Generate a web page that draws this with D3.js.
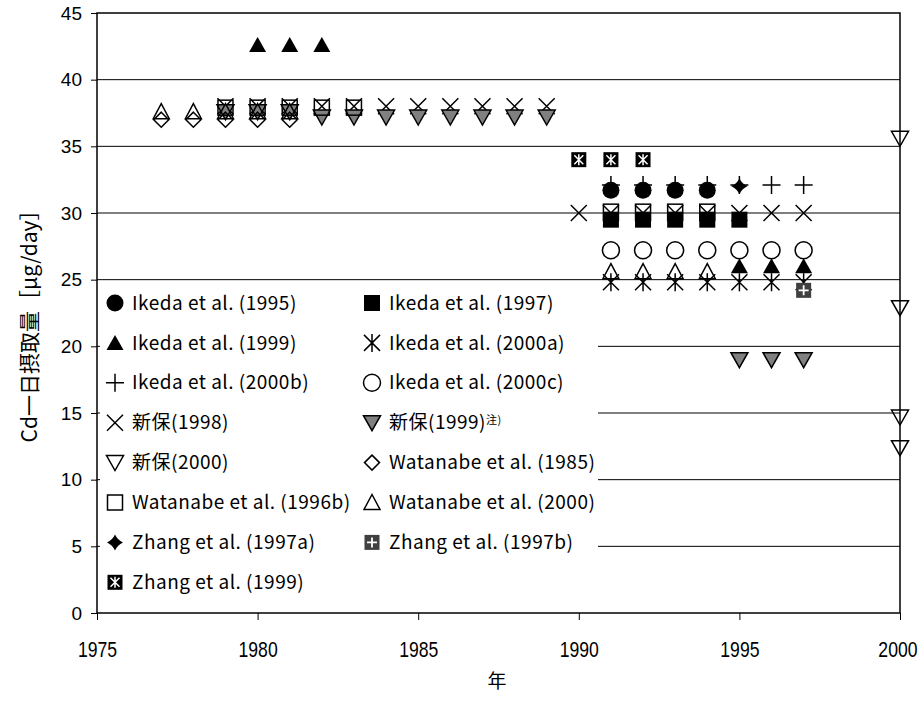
<!DOCTYPE html>
<html>
<head>
<meta charset="utf-8">
<script src="https://cdn.jsdelivr.net/npm/d3@7"></script>
<style>
  body { margin: 0; background: #fff; }
</style>
</head>
<body>
<div id="chart"></div>
<script>
// data: [year, Cd intake µg/day]
const ikeda1995 = [[1991, 31.7], [1992, 31.7], [1993, 31.7], [1994, 31.7]];
const ikeda1997 = [[1991, 29.5], [1992, 29.5], [1993, 29.5], [1994, 29.5], [1995, 29.5]];
const ikeda1999 = [[1980, 42.6], [1981, 42.6], [1982, 42.6], [1995, 26.0], [1996, 26.0], [1997, 26.0]];
const ikeda2000a = [[1991, 24.8], [1992, 24.8], [1993, 24.8], [1994, 24.8], [1995, 24.8], [1996, 24.8], [1997, 24.8]];
const ikeda2000b = [[1991, 32.1], [1992, 32.1], [1993, 32.1], [1994, 32.1], [1995, 32.1], [1996, 32.1], [1997, 32.1]];
const ikeda2000c = [[1991, 27.2], [1992, 27.2], [1993, 27.2], [1994, 27.2], [1995, 27.2], [1996, 27.2], [1997, 27.2]];
const shinpo1998 = [[1979, 38.0], [1980, 38.0], [1981, 38.0], [1982, 38.0], [1983, 38.0], [1984, 38.0], [1985, 38.0],
  [1986, 38.0], [1987, 38.0], [1988, 38.0], [1989, 38.0], [1990, 30.0], [1991, 30.0], [1992, 30.0], [1993, 30.0],
  [1994, 30.0], [1995, 30.0], [1996, 30.0], [1997, 30.0]];
const shinpo1999 = [[1979, 37.6], [1980, 37.6], [1981, 37.6], [1982, 37.2], [1983, 37.2], [1984, 37.2], [1985, 37.2],
  [1986, 37.2], [1987, 37.2], [1988, 37.2], [1989, 37.2], [1995, 19.0], [1996, 19.0], [1997, 19.0]];
const shinpo2000 = [[2000, 35.6], [2000, 22.9], [2000, 14.7], [2000, 12.4]];
const watanabe1985 = [[1977, 37.0], [1978, 37.0], [1979, 37.0], [1980, 37.0], [1981, 37.0]];
const watanabe1996b = [[1979, 37.9], [1980, 37.9], [1981, 37.9], [1982, 37.9], [1983, 37.9],
  [1991, 30.1], [1992, 30.1], [1993, 30.1], [1994, 30.1]];
const watanabe2000 = [[1977, 37.6], [1978, 37.6], [1979, 37.6], [1980, 37.6], [1981, 37.6],
  [1991, 25.6], [1992, 25.6], [1993, 25.6], [1994, 25.6]];
const zhang1997a = [[1995, 32.0]];
const zhang1997b = [[1997, 24.2]];
const zhang1999 = [[1990, 34.0], [1991, 34.0], [1992, 34.0]];

const seriesLabels = ['Ikeda et al. (1995)', 'Ikeda et al. (1997)', 'Ikeda et al. (1999)', 'Ikeda et al. (2000a)',
  'Ikeda et al. (2000b)', 'Ikeda et al. (2000c)', '新保(1998)', '新保(1999)', '新保(2000)',
  'Watanabe et al. (1985)', 'Watanabe et al. (1996b)', 'Watanabe et al. (2000)',
  'Zhang et al. (1997a)', 'Zhang et al. (1997b)', 'Zhang et al. (1999)'];
const seriesData = [ikeda1995, ikeda1997, ikeda1999, ikeda2000a, ikeda2000b, ikeda2000c,
  shinpo1998, shinpo1999, shinpo2000, watanabe1985, watanabe1996b, watanabe2000,
  zhang1997a, zhang1997b, zhang1999];

const xTicks = [1975, 1980, 1985, 1990, 1995, 2000];
const yTicks = [0, 5, 10, 15, 20, 25, 30, 35, 40, 45];

// marker look per series, same order as above
const markers = ['circleFill', 'squareFill', 'triUpFill', 'asterisk', 'plus', 'circleOpen', 'cross',
  'triDownGray', 'triDownOpen', 'diamondOpen', 'squareOpen', 'triUpOpen', 'diamondFill', 'boxPlus', 'boxStar'];

const width = 921, height = 702;
const margin = { left: 97, right: 21, top: 13, bottom: 89 };

const svg = d3.select('#chart').append('svg')
  .attr('width', width)
  .attr('height', height);

const x = d3.scaleLinear().domain([1975, 2000]).range([margin.left, width - margin.right]);
const y = d3.scaleLinear().domain([0, 45]).range([height - margin.bottom, margin.top]);

// gridlines
svg.append('g')
  .selectAll('line')
  .data(yTicks.filter(d => d > 0 && d < 45))
  .join('line')
  .attr('x1', x(1975)).attr('x2', x(2000))
  .attr('y1', d => y(d)).attr('y2', d => y(d))
  .attr('stroke', '#000')
  .attr('stroke-width', 1);

// draws one marker centred on 0,0
const drawMarker = (g, type) => {
  const k = '#000', sw = 1.5;
  switch (type) {
    case 'circleFill':
      g.append('circle').attr('r', 8.5).attr('fill', k); break;
    case 'circleOpen':
      g.append('circle').attr('r', 8.5).attr('fill', 'none').attr('stroke', k).attr('stroke-width', sw); break;
    case 'squareFill':
      g.append('rect').attr('x', -8).attr('y', -8).attr('width', 16).attr('height', 16).attr('fill', k); break;
    case 'squareOpen':
      g.append('rect').attr('x', -7.5).attr('y', -7.5).attr('width', 15).attr('height', 15)
        .attr('fill', 'none').attr('stroke', k).attr('stroke-width', sw); break;
    case 'triUpFill':
      g.append('path').attr('d', 'M0,-8L8.5,7L-8.5,7Z').attr('fill', k); break;
    case 'triUpOpen':
      g.append('path').attr('d', 'M0,-8L8,7L-8,7Z').attr('fill', 'none').attr('stroke', k).attr('stroke-width', sw); break;
    case 'triDownGray':
      g.append('path').attr('d', 'M-8.5,-7L8.5,-7L0,8Z').attr('fill', '#808080').attr('stroke', k).attr('stroke-width', sw); break;
    case 'triDownOpen':
      g.append('path').attr('d', 'M-8.5,-7L8.5,-7L0,8Z').attr('fill', 'none').attr('stroke', k).attr('stroke-width', sw); break;
    case 'diamondOpen':
      g.append('path').attr('d', 'M0,-7.5L7.5,0L0,7.5L-7.5,0Z').attr('fill', 'none').attr('stroke', k).attr('stroke-width', sw); break;
    case 'diamondFill':
      g.append('path').attr('d', 'M0,-8Q2.5,-2.5 8,0Q2.5,2.5 0,8Q-2.5,2.5 -8,0Q-2.5,-2.5 0,-8Z').attr('fill', k); break;
    case 'cross':
      g.append('path').attr('d', 'M-8,-8L8,8M8,-8L-8,8').attr('stroke', k).attr('stroke-width', sw); break;
    case 'plus':
      g.append('path').attr('d', 'M-9,0L9,0M0,-9L0,9').attr('stroke', k).attr('stroke-width', sw); break;
    case 'asterisk':
      g.append('path').attr('d', 'M-8,-8L8,8M8,-8L-8,8M0,-9L0,9').attr('stroke', k).attr('stroke-width', sw); break;
    case 'boxPlus':
      g.append('rect').attr('x', -7.5).attr('y', -7.5).attr('width', 15).attr('height', 15).attr('fill', '#404040');
      g.append('path').attr('d', 'M-5,0L5,0M0,-5L0,5').attr('stroke', '#fff').attr('stroke-width', 1.8); break;
    case 'boxStar':
      g.append('rect').attr('x', -7.5).attr('y', -7.5).attr('width', 15).attr('height', 15).attr('fill', k);
      g.append('path').attr('d', 'M-4.5,-4.5L4.5,4.5M4.5,-4.5L-4.5,4.5M0,-5.5L0,5.5').attr('stroke', '#fff').attr('stroke-width', 1.5); break;
  }
};

// points
seriesData.forEach((pts, i) => {
  svg.append('g')
    .selectAll('g')
    .data(pts)
    .join('g')
    .attr('transform', d => 'translate(' + x(d[0]) + ',' + y(d[1]) + ')')
    .each(function () { drawMarker(d3.select(this), markers[i]); });
});

// frame
svg.append('rect')
  .attr('x', x(1975)).attr('y', y(45))
  .attr('width', x(2000) - x(1975)).attr('height', y(0) - y(45))
  .attr('fill', 'none').attr('stroke', '#000').attr('stroke-width', 1.5);

// axes
const yAxis = svg.append('g')
  .attr('transform', 'translate(' + margin.left + ',0)')
  .call(d3.axisLeft(y).tickValues(yTicks).tickSize(6).tickPadding(9));
const xAxis = svg.append('g')
  .attr('transform', 'translate(0,' + y(0) + ')')
  .call(d3.axisBottom(x).tickValues(xTicks).tickFormat(d3.format('d')).tickSize(7).tickPadding(21));
[yAxis, xAxis].forEach(a => {
  a.select('.domain').remove();
  a.selectAll('line').attr('stroke', '#000');
});
yAxis.selectAll('text')
  .attr('font-family', '"Liberation Sans", Arial, sans-serif')
  .attr('font-size', 19)
  .attr('fill', '#000');
// the year labels are set in a condensed face in the original: squeeze them
const squeeze = 0.8;
xAxis.selectAll('text')
  .attr('font-family', '"Liberation Sans", sans-serif')
  .attr('font-size', 22)
  .attr('transform', 'scale(' + squeeze + ',1)')
  .attr('fill', '#000');
// last label sits against the right edge of the picture
xAxis.selectAll('.tick')
  .filter(d => d === 2000)
  .select('text')
  .attr('text-anchor', 'end')
  .attr('x', 17 / squeeze);

// axis titles
svg.append('text')
  .attr('transform', 'translate(30,321) rotate(-90)')
  .attr('text-anchor', 'middle')
  .attr('dy', '0.35em')
  .attr('font-family', '"Noto Sans CJK JP", sans-serif')
  .attr('font-size', 21)
  .attr('fill', '#000')
  .text('Cd一日摂取量［μg/day］');
svg.append('text')
  .attr('x', 497).attr('y', 688)
  .attr('text-anchor', 'middle')
  .attr('font-family', '"Noto Sans CJK JP", sans-serif')
  .attr('font-size', 19)
  .attr('fill', '#000')
  .text('年');

// legend
const legend = svg.append('g');
legend.append('rect')
  .attr('x', 100).attr('y', 284)
  .attr('width', 498).attr('height', 328)
  .attr('fill', '#fff');

const colX = [115, 372];
const item = legend.selectAll('g.item')
  .data(seriesLabels)
  .join('g')
  .attr('class', 'item')
  .attr('transform', (d, i) => 'translate(' + colX[i % 2] + ',' + (303 + Math.floor(i / 2) * 39.9) + ')');
item.each(function (d, i) { drawMarker(d3.select(this), markers[i]); });
const label = item.append('text')
  .attr('x', 17)
  .attr('dy', '0.35em')
  .attr('font-family', '"Noto Sans CJK JP", sans-serif')
  .attr('font-size', 19)
  .attr('letter-spacing', 0.5)
  .attr('fill', '#000')
  .text(d => d);
// note mark on 新保(1999)
label.filter((d, i) => i === 7)
  .append('tspan')
  .attr('dy', '-0.5em')
  .attr('font-size', 11)
  .text('注)');
</script>
</body>
</html>
